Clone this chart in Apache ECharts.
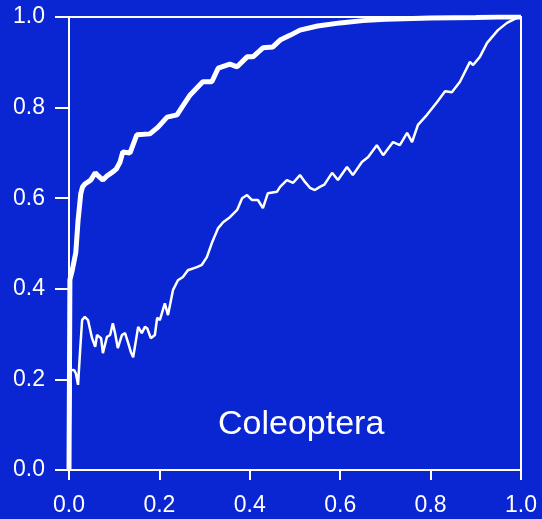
<!DOCTYPE html>
<html>
<head>
<meta charset="utf-8">
<script src="https://cdn.jsdelivr.net/npm/echarts@6/dist/echarts.min.js"></script>
<style>
html,body{margin:0;padding:0;background:#0a26d2;}
#chart{width:542px;height:519px;}
</style>
</head>
<body>
<div id="chart"></div>
<script>
var xTicks = [0, 0.2, 0.4, 0.6, 0.8, 1.0];
var yTicks = [0, 0.2, 0.4, 0.6, 0.8, 1.0];
var panelLabel = "Coleoptera";

var thickX = [0, 0.002, 0.007, 0.015, 0.020, 0.026, 0.030, 0.036, 0.040, 0.048, 0.058, 0.066, 0.075, 0.085, 0.097, 0.105, 0.113, 0.119, 0.135, 0.150, 0.165, 0.179, 0.197, 0.217, 0.239, 0.250, 0.268, 0.296, 0.316, 0.330, 0.356, 0.372, 0.394, 0.407, 0.429, 0.451, 0.467, 0.490, 0.511, 0.55, 0.6, 0.65, 0.7, 0.8, 0.9, 0.95, 1.0];
var thickY = [0, 0.42, 0.44, 0.48, 0.55, 0.61, 0.625, 0.632, 0.634, 0.64, 0.656, 0.648, 0.640, 0.650, 0.658, 0.665, 0.680, 0.702, 0.700, 0.740, 0.741, 0.742, 0.757, 0.779, 0.784, 0.801, 0.828, 0.857, 0.857, 0.887, 0.896, 0.890, 0.912, 0.912, 0.932, 0.934, 0.949, 0.960, 0.971, 0.980, 0.987, 0.992, 0.995, 0.998, 0.999, 1.0, 1.0];

var thinX = [0, 0.004, 0.011, 0.015, 0.020, 0.025, 0.029, 0.035, 0.042, 0.051, 0.058, 0.062, 0.071, 0.075, 0.084, 0.091, 0.097, 0.102, 0.108, 0.117, 0.124, 0.131, 0.137, 0.142, 0.153, 0.161, 0.168, 0.173, 0.181, 0.190, 0.195, 0.201, 0.212, 0.219, 0.230, 0.241, 0.252, 0.263, 0.283, 0.294, 0.305, 0.316, 0.330, 0.341, 0.356, 0.372, 0.383, 0.394, 0.405, 0.418, 0.429, 0.440, 0.460, 0.467, 0.482, 0.496, 0.511, 0.522, 0.533, 0.544, 0.555, 0.565, 0.582, 0.595, 0.615, 0.628, 0.648, 0.662, 0.681, 0.695, 0.717, 0.732, 0.748, 0.759, 0.772, 0.792, 0.814, 0.832, 0.847, 0.865, 0.887, 0.894, 0.909, 0.925, 0.949, 0.969, 0.991, 1.0];
var thinY = [0, 0.22, 0.221, 0.214, 0.188, 0.27, 0.331, 0.338, 0.331, 0.291, 0.272, 0.298, 0.291, 0.258, 0.294, 0.298, 0.324, 0.302, 0.269, 0.298, 0.302, 0.280, 0.260, 0.249, 0.316, 0.302, 0.316, 0.313, 0.291, 0.298, 0.336, 0.331, 0.368, 0.342, 0.397, 0.419, 0.426, 0.441, 0.448, 0.453, 0.470, 0.501, 0.534, 0.547, 0.558, 0.574, 0.600, 0.607, 0.596, 0.596, 0.578, 0.611, 0.614, 0.625, 0.640, 0.634, 0.651, 0.636, 0.623, 0.618, 0.625, 0.630, 0.656, 0.640, 0.669, 0.651, 0.680, 0.691, 0.717, 0.695, 0.724, 0.717, 0.744, 0.724, 0.762, 0.784, 0.812, 0.836, 0.834, 0.857, 0.901, 0.894, 0.912, 0.943, 0.971, 0.987, 0.998, 1.0];

function zip(a, b) {
  var out = [];
  for (var i = 0; i < Math.min(a.length, b.length); i++) out.push([a[i], b[i]]);
  return out;
}

var FONT = "Liberation Sans, Arial, sans-serif";
var chart = echarts.init(document.getElementById('chart'), null, {renderer: 'canvas'});
function fmt(v) { return v.toFixed(1); }
chart.setOption({
  backgroundColor: '#0a26d2',
  animation: false,
  grid: {left: 69, right: 21, top: 17, bottom: 49, show: true, borderColor: '#fff', borderWidth: 2, backgroundColor: 'transparent'},
  xAxis: {
    type: 'value', min: xTicks[0], max: xTicks[xTicks.length - 1], interval: 0.2,
    axisLine: {show: true, lineStyle: {color: '#fff', width: 2}},
    axisTick: {show: true, inside: false, length: 10, lineStyle: {color: '#fff', width: 2}},
    splitLine: {show: false},
    axisLabel: {color: '#fff', fontSize: 23, fontFamily: FONT, margin: 24, formatter: fmt}
  },
  yAxis: {
    type: 'value', min: yTicks[0], max: yTicks[yTicks.length - 1], interval: 0.2,
    axisLine: {show: true, lineStyle: {color: '#fff', width: 2}},
    axisTick: {show: true, inside: false, length: 14, lineStyle: {color: '#fff', width: 2}},
    splitLine: {show: false},
    axisLabel: {color: '#fff', fontSize: 23, fontFamily: FONT, margin: 24, formatter: fmt}
  },
  graphic: [{
    type: 'text', left: 218, top: 408,
    style: {text: panelLabel, fill: '#fff', font: '34px ' + FONT}
  }],
  series: [
    {type: 'line', data: zip(thinX, thinY), showSymbol: false, symbol: 'none',
     lineStyle: {color: '#fff', width: 2.5}, z: 3},
    {type: 'line', data: zip(thickX, thickY), showSymbol: false, symbol: 'none',
     lineStyle: {color: '#fff', width: 5}, z: 4}
  ]
});
</script>
</body>
</html>
